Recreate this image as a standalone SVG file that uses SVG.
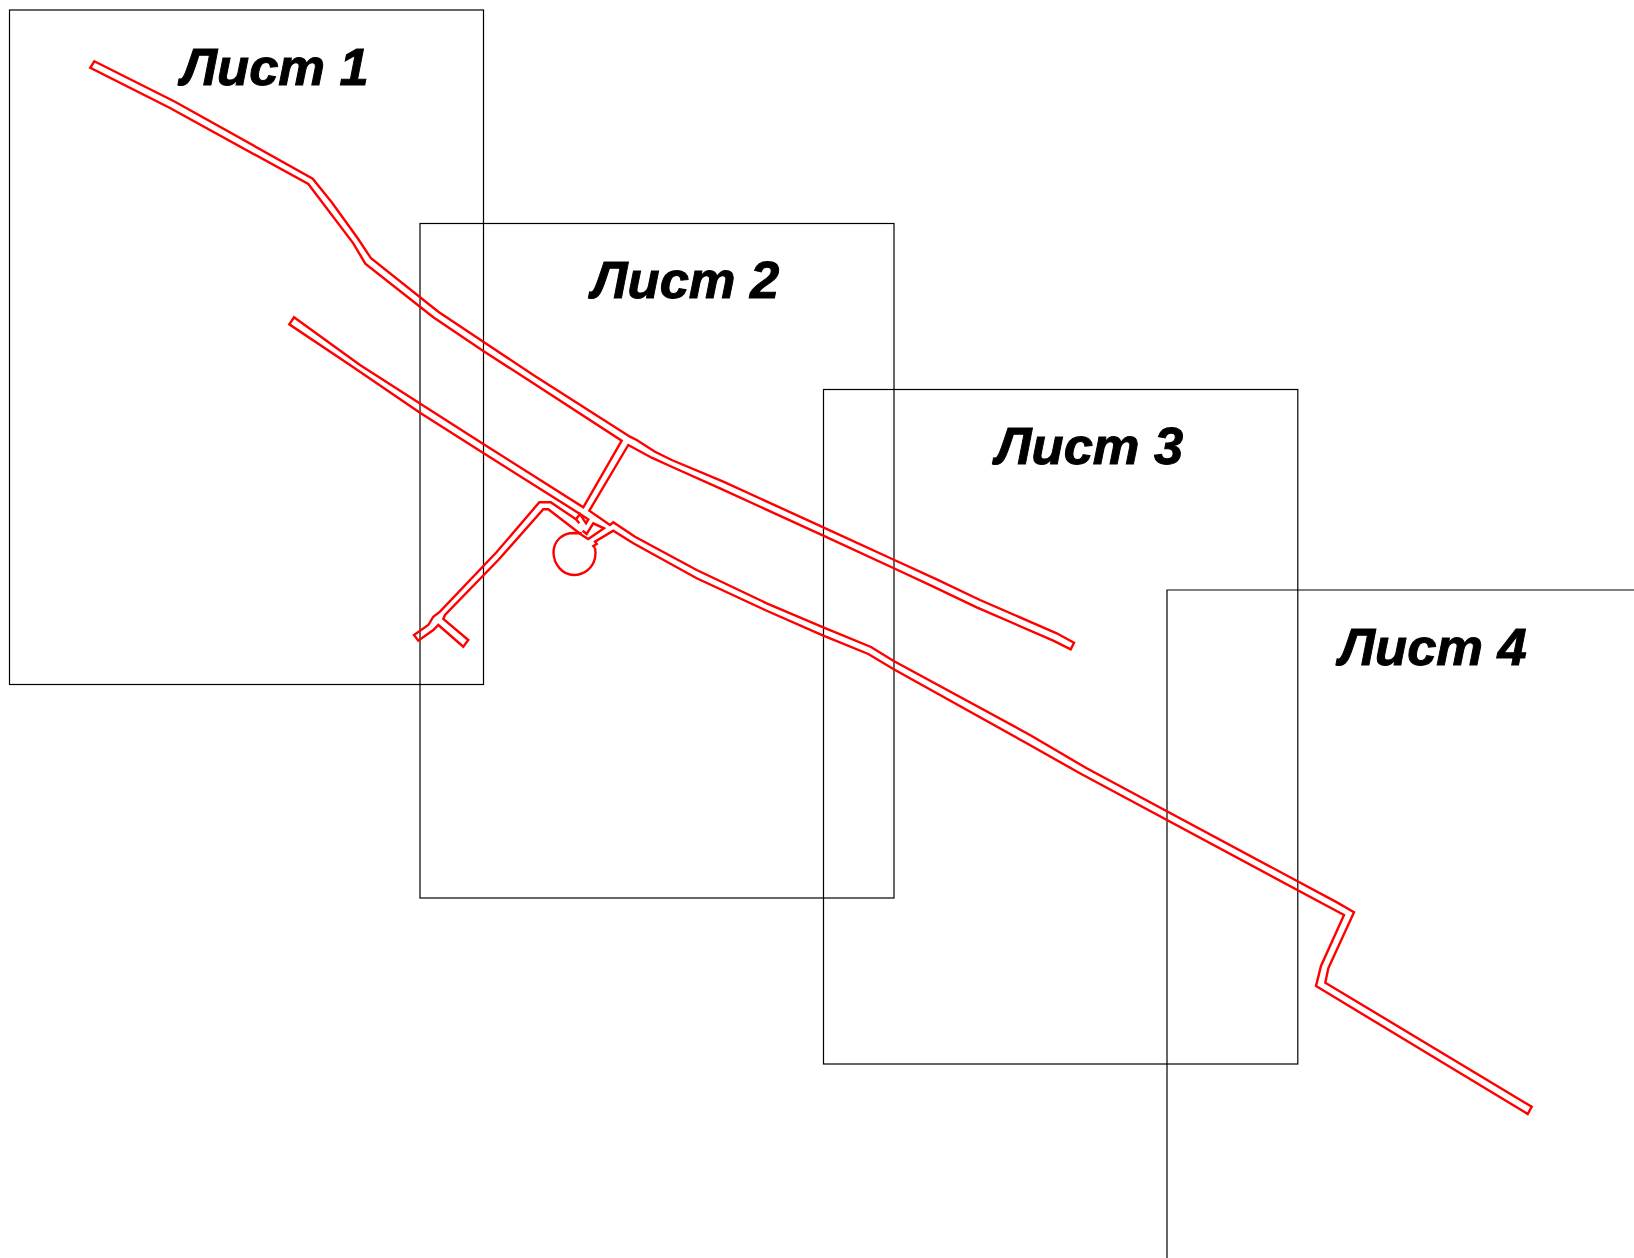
<svg xmlns="http://www.w3.org/2000/svg" width="1634" height="1258" viewBox="0 0 1634 1258">
<style>
.s{fill:none;stroke:#000;stroke-width:1.2}
.p{fill:none;stroke:#f00;stroke-width:2.4;stroke-linejoin:miter}
.t{font-family:"Liberation Sans",Arial,sans-serif;font-weight:bold;font-style:italic;font-size:52.5px;fill:#000;stroke:#000;stroke-width:1}
</style>
<rect width="1634" height="1258" fill="#fff"/>
<g id="sheet1"><rect class="s" x="9.5" y="10" width="474" height="674.5"/><text class="t" x="181" y="84.5">Лист 1</text></g>
<g id="sheet2"><rect class="s" x="420" y="223.5" width="474" height="674.5"/><text class="t" x="591.5" y="298">Лист 2</text></g>
<g id="sheet3"><rect class="s" x="823.5" y="389.5" width="474.3" height="674.5"/><text class="t" x="995.5" y="464">Лист 3</text></g>
<g id="sheet4"><path class="s" d="M1634 590H1167V1258"/><text class="t" x="1339" y="664.5">Лист 4</text></g>
<g id="connectors">
<path class="p" d="M580 514L483.3 453L420 412.7L350 365L289.3 324.3L294 317.3L360 365L420 403.5L483.3 444L583.3 507.3L621.7 440.7L528.3 380L483.3 351L433.3 317.3L365.3 263.7L353.3 243.3L308.3 184L170 108L90.3 67.7L94.3 61.3L175 101.7L312.7 178.7L331.7 202.3L357.7 238.3L371 258.3L438.3 311.7L483.3 341.7L533.3 375L630 436.7L636.7 440L655 451.7L671.7 460L723.3 481.7L823.3 527.3L893.3 559.5L936.7 579.3L980 600L1056.7 633.3L1074 642.7L1070.7 649.3L1053.3 640.7L976.7 607.3L933.3 586.7L893.3 568L823.3 535.7L720 488.3L670 466L651.7 457.7L628.3 445L589.3 510.7L610 525L613.3 522.3L635 536.7L696.7 570L766.7 603.3L823.3 627.3L871 647L893.3 660.7L1030 735L1086.7 768.3L1337 902.4L1354 912.3L1328.3 968.3L1325.3 982.7L1531.7 1106.7L1527.7 1114L1316 986L1321 966L1344 915L1081.7 774.3L1026.7 743.3L893.3 669L868.3 654L823.3 635.7L765 610L696.7 578.3L633.3 543.3L613.3 530.7L595 541.7L596.7 544L593.3 546L595 548"/>
<path class="p" d="M595 548C596 553 595.5 556 595 558C593 568 584 575 574 575C562 575 554 564 553.5 553C553.5 541 562 533 574 533L581.7 533.3"/>
<path class="p" d="M580 514L588.3 519.3L586 523.3L580 514L576 519.3L579.3 523.3"/>
<path class="p" d="M576 519.3L550.7 502.3L539.3 502.3L496.7 552L440 611.7L433.3 616.7L428.3 625L414 635L418.3 640.7L433.3 630L438.3 625L463.3 646.7L468.3 640L443.3 619L445 615L498.3 560L543.3 509.3L548.3 509.3L581.7 535L588.3 539L604 528.3L593.3 523.3L586.7 534L582.7 530.7"/>
</g>
</svg>
